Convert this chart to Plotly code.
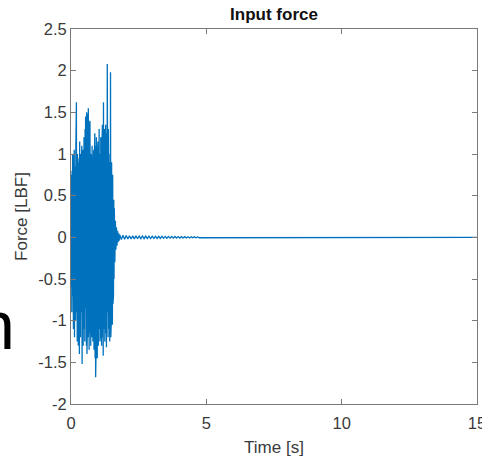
import numpy as np
import plotly.graph_objects as go

# Input force record: excitation burst (sampled every 0.01 s from t = 0)
burst_dt = 0.01
burst_force = [
    0.05, -0.6, 0.75, -0.9, 0.8, -0.7, 1.0, -0.85, 0.6, -1.1,
    0.9, -0.7, 1.05, -1.2, 0.7, -0.95, 0.85, -1.0, 1.1, -0.8,
    1.62, -0.9, 0.8, -1.25, 1.0, -0.7, 0.95, -1.3, 0.75, -1.1,
    0.9, -1.4, 1.15, -0.8, 0.7, -1.2, 1.0, -0.9, 0.85, -1.35,
    1.1, -1.52, 0.9, -1.0, 1.05, -1.3, 0.8, -1.1, 1.2, -0.9,
    1.0, -1.25, 1.3, -0.85, 1.45, -1.1, 0.9, -1.3, 1.5, -1.4,
    1.2, -1.0, 1.48, -1.2, 1.55, -0.95, 1.1, -1.35, 1.38, -1.15,
    1.4, -1.05, 0.9, -1.3, 1.0, -0.85, 0.8, -1.2, 1.1, -1.0,
    0.95, -1.25, 0.85, -1.1, 1.05, -1.35, 0.9, -1.2, 1.25, -1.45,
    1.1, -1.68, 0.95, -1.3, 1.2, -1.0, 0.85, -1.45, 1.0, -1.2,
    1.15, -1.3, 0.9, -1.1, 1.3, -0.95, 1.0, -1.25, 0.8, -1.15,
    1.2, -1.0, 0.95, -1.3, 1.1, -0.9, 1.35, -1.2, 1.0, -1.42,
    1.62, -1.1, 1.2, -1.0, 1.3, -1.25, 0.9, -1.15, 1.35, -1.0,
    1.1, -1.32, 1.25, -0.9, 2.08, -1.15, 1.0, -1.2, 1.3, -0.95,
    1.15, -1.1, 0.9, -1.25, 1.0, -0.85, 1.98, -1.2, 0.8, -1.0,
    0.9, -0.95, 0.7, -1.05, 0.75, -0.8, 0.6, -0.7, 0.45, -0.5,
]

# Ring-down after the burst (every 0.02 s from t = 1.6 s)
ring_t0, ring_dt = 1.6, 0.02
ring_force = [0.35, -0.3, 0.2, -0.15, 0.12, -0.1, 0.08, -0.06, 0.05, -0.04]

# Residual ripple (every 0.06 s from t = 1.8 s), then the record settles at zero
ripple_t0, ripple_dt = 1.8, 0.06
ripple_force = [
    0.03, -0.025, 0.025, -0.022, 0.022, -0.02, 0.02, -0.02, 0.018, -0.018,
    0.018, -0.017, 0.017, -0.016, 0.016, -0.016, 0.015, -0.015, 0.015, -0.014,
    0.014, -0.014, 0.013, -0.013, 0.013, -0.012, 0.012, -0.012, 0.011, -0.011,
    0.011, -0.01, 0.01, -0.01, 0.01, -0.009, 0.009, -0.009, 0.008, -0.008,
    0.008, -0.008, 0.007, -0.007, 0.007, -0.006, 0.006, -0.006, 0.005, -0.005,
]
end_time, end_force = 15.0, 0.0

t_burst = np.arange(len(burst_force)) * burst_dt
t_ring = ring_t0 + np.arange(len(ring_force)) * ring_dt
t_ripple = ripple_t0 + np.arange(len(ripple_force)) * ripple_dt

time = np.concatenate([t_burst, t_ring, t_ripple, [end_time]])
force = np.concatenate([burst_force, ring_force, ripple_force, [end_force]])

x_ticks = [0, 5, 10, 15]
y_ticks = [-2, -1.5, -1, -0.5, 0, 0.5, 1, 1.5, 2, 2.5]

FONT = "Liberation Sans, Arial, sans-serif"
TEXT_GREY = "#3a3a3a"
AXIS_GREY = "#7a7a7a"

fig = go.Figure()
fig.add_trace(go.Scatter(
    x=time, y=force, mode="lines",
    line=dict(color="#0072BD", width=1.3),
    hoverinfo="skip", showlegend=False,
))

axis_common = dict(
    showgrid=False, zeroline=False,
    showline=True, linecolor=AXIS_GREY, linewidth=1,
    mirror="ticks", ticks="inside", ticklen=5, tickcolor=AXIS_GREY,
    tickfont=dict(family=FONT, size=16.5, color=TEXT_GREY),
    ticklabeloverflow="allow",
    automargin=False,
)

fig.update_layout(
    width=482, height=459,
    margin=dict(l=71, r=5, t=29, b=55),
    paper_bgcolor="white", plot_bgcolor="white",
    title=dict(
        text="<b>Input force</b>",
        font=dict(family=FONT, size=17, color="#111111"),
        x=(71 + 477) / 2 / 482, xanchor="center",
        y=1 - 14 / 459, yanchor="middle",
    ),
    xaxis=dict(
        range=[0, 15], tickvals=x_ticks, ticktext=[str(v) for v in x_ticks],
        title=dict(text="Time [s]", standoff=10,
                   font=dict(family=FONT, size=17, color=TEXT_GREY)),
        ticklabelstandoff=4,
        **axis_common,
    ),
    yaxis=dict(
        range=[-2, 2.5], tickvals=y_ticks,
        ticktext=[f"{v:g}" for v in y_ticks],
        title=dict(text="Force [LBF]", standoff=6,
                   font=dict(family=FONT, size=17, color=TEXT_GREY)),
        **axis_common,
    ),
)

# Large slide letter partially visible at the left edge
fig.add_annotation(
    text="n", xref="paper", yref="paper",
    x=(17 - 71) / 406, y=(404 - 325) / 375,
    xanchor="right", yanchor="middle",
    showarrow=False,
    font=dict(family=FONT, size=68, color="#000000"),
)

fig.write_html("out.html")
